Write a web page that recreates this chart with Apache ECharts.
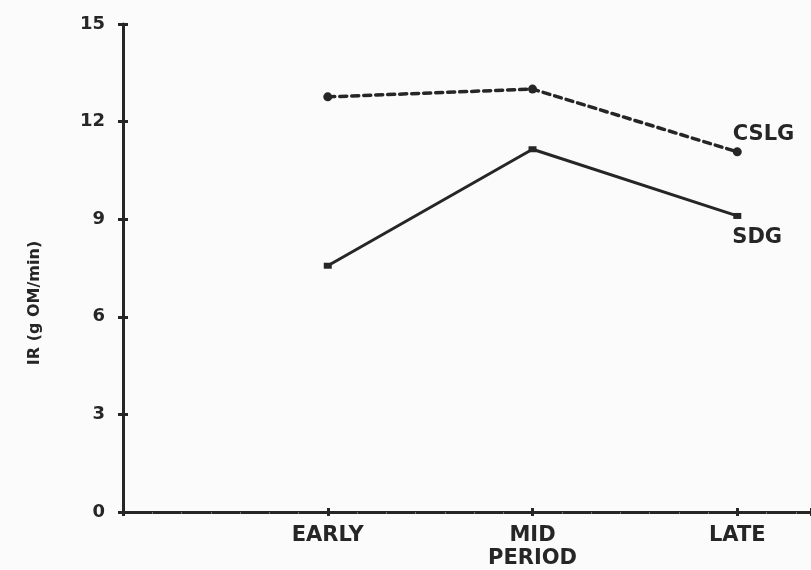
<!DOCTYPE html>
<html>
<head>
<meta charset="utf-8">
<script src="https://cdn.jsdelivr.net/npm/echarts@6/dist/echarts.min.js"></script>
<style>
html,body{margin:0;padding:0;background:#fbfbfb;}
#chart{width:811px;height:570px;}
</style>
</head>
<body>
<div id="chart"></div>
<script>
var periods = ['EARLY', 'MID', 'LATE'];
var periodPositions = [1, 2, 3];
var xTitle = 'PERIOD';
var yTitle = 'IR (g OM/min)';
var cslgName = 'CSLG';
var cslgValues = [12.76, 13.0, 11.07];
var sdgName = 'SDG';
var sdgValues = [7.57, 11.15, 9.1];

var ink = '#262626';
var font = 'DejaVu Sans';

function buildData(values, labelOffset, name) {
  return values.map(function (v, i) {
    var item = { value: [periodPositions[i], v] };
    if (i === values.length - 1) {
      item.label = {
        show: true, position: 'right', distance: 0, offset: labelOffset,
        formatter: name, color: ink, fontFamily: font, fontWeight: 'bold', fontSize: 21
      };
    }
    return item;
  });
}

function xLabel(value) {
  if (Math.abs(value - Math.round(value)) > 1e-6) return '';
  var idx = periodPositions.indexOf(Math.round(value));
  if (idx < 0) return '';
  if (periods[idx] === 'MID') return periods[idx] + '\n' + xTitle;
  return periods[idx];
}

var chart = echarts.init(document.getElementById('chart'), null, { renderer: 'canvas' });
var xCommon = { type: 'value', min: 0, max: 3.36, interval: 1 };
var yCommon = { type: 'value', min: 0, max: 15, interval: 3 };
chart.setOption({
  backgroundColor: '#fbfbfb',
  animation: false,
  grid: { left: 123, right: 0, top: 24, bottom: 58 },
  xAxis: [
    Object.assign({}, xCommon, {
      axisLine: { show: true, lineStyle: { color: ink, width: 3 } },
      axisTick: { show: true, length: 4, lineStyle: { color: ink, width: 3 } },
      minorTick: { show: true, splitNumber: 7, length: 2, lineStyle: { color: '#777', width: 1 } },
      splitLine: { show: false },
      axisLabel: {
        margin: 12, color: ink, fontFamily: font, fontWeight: 'bold', fontSize: 21,
        lineHeight: 23, formatter: xLabel, showMinLabel: false, showMaxLabel: false
      }
    }),
    Object.assign({}, xCommon, {
      position: 'bottom',
      axisLine: { show: false },
      axisTick: { show: true, inside: true, length: 4, lineStyle: { color: ink, width: 3 } },
      axisLabel: { show: false },
      splitLine: { show: false }
    })
  ],
  yAxis: [
    Object.assign({}, yCommon, {
      name: yTitle,
      nameLocation: 'middle',
      nameGap: 80,
      nameTextStyle: {
        color: ink, fontFamily: font, fontWeight: 'bold', fontSize: 16,
        padding: [0, 70, 0, 0]
      },
      axisLine: { show: true, lineStyle: { color: ink, width: 3 } },
      axisTick: { show: true, length: 5, lineStyle: { color: ink, width: 3 } },
      splitLine: { show: false },
      axisLabel: { margin: 18, color: ink, fontFamily: font, fontWeight: 'bold', fontSize: 18 }
    }),
    Object.assign({}, yCommon, {
      position: 'left',
      axisLine: { show: false },
      axisTick: { show: true, inside: true, length: 5, lineStyle: { color: ink, width: 3 } },
      axisLabel: { show: false },
      splitLine: { show: false }
    })
  ],
  series: [
    {
      name: cslgName, type: 'line', xAxisIndex: 0, yAxisIndex: 0,
      data: buildData(cslgValues, [-9, -17], cslgName),
      symbol: 'circle', symbolSize: 9,
      itemStyle: { color: ink },
      lineStyle: { color: ink, width: 3.5, type: [7, 5], cap: 'round' }
    },
    {
      name: sdgName, type: 'line', xAxisIndex: 0, yAxisIndex: 0,
      data: buildData(sdgValues, [-9, 22], sdgName),
      symbol: 'rect', symbolSize: [8, 6],
      itemStyle: { color: ink },
      lineStyle: { color: ink, width: 3 }
    }
  ]
});
</script>
</body>
</html>
